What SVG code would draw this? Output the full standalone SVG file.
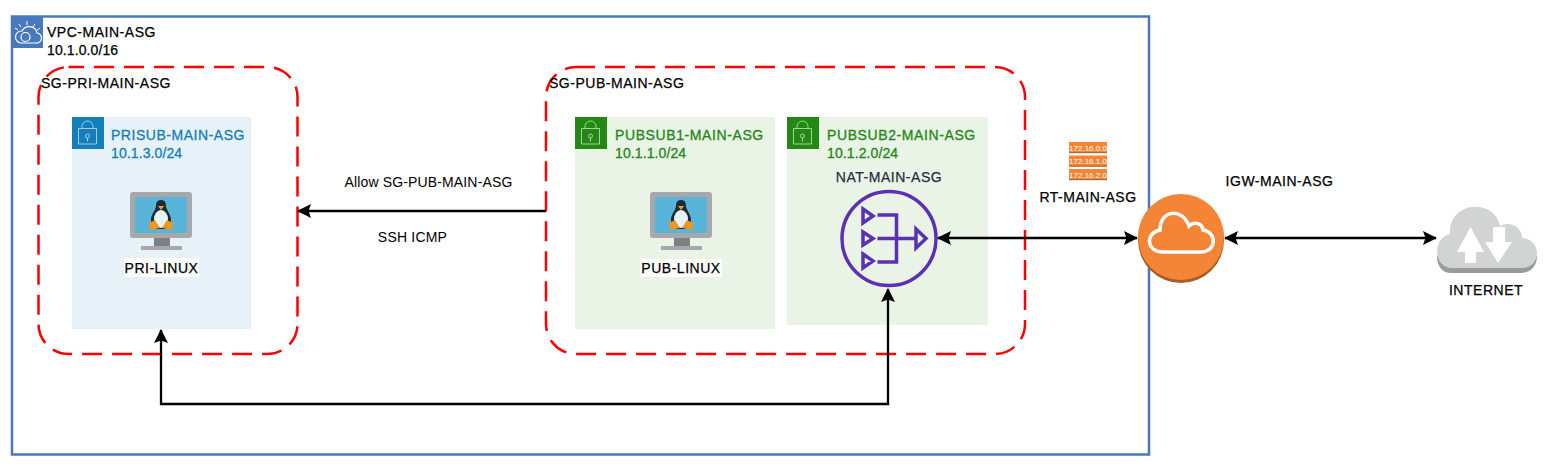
<svg xmlns="http://www.w3.org/2000/svg" width="1545" height="470" viewBox="0 0 1545 470">
<style>
text{font-family:"Liberation Sans",Arial,sans-serif;font-size:14px;fill:#000}
.b{stroke:#000;stroke-width:.25px;letter-spacing:.52px}
.g{fill:#248814;stroke:#248814;stroke-width:.3px;letter-spacing:.6px}
.t{fill:#147eba;stroke:#147eba;stroke-width:.3px;letter-spacing:.53px}
.n{letter-spacing:.1px}
.sg{fill:none;stroke:#f00;stroke-width:2.500;stroke-dasharray:20 10}
.conn{fill:none;stroke:#000;stroke-width:2.300}
.lk{fill:none;stroke:#fff;stroke-opacity:.6;stroke-width:1}
.nat{fill:none;stroke:#5a30b5;stroke-width:3.500}
.ip{font-size:8px;fill:#fff;text-anchor:middle}
</style>
<defs>
<marker id="a" viewBox="0 0 14 14" refX="13" refY="7" markerWidth="14" markerHeight="14" markerUnits="userSpaceOnUse" orient="auto-start-reverse"><path d="M0 0L14 7L0 14L2.500 7Z" fill="#000"/></marker>
<g id="lock"><path class="lk" d="M10 11V9.500a5.500 5.500 0 0 1 11 0V11M6.500 11.500h18v15.500h-18z"/><circle class="lk" cx="15.500" cy="19" r="2"/><path class="lk" d="M15.500 21v3.500"/></g>
<g id="tux">
<rect width="62" height="46" rx="3" fill="#a6a8ab"/>
<rect x="5" y="5" width="52" height="36" fill="#59b4d9"/>
<path d="M24 46h16v8H24z" fill="#7f8083"/>
<rect x="11" y="54" width="41" height="4" fill="#a6a8ab"/>
<circle cx="30.500" cy="2.500" r=".8" fill="#b8d432"/>
<path d="M31 8c-4 0-5 3-5 6 0 4-5 8-5 14 0 4 2 8 4 9h12c2-1 4-5 4-9 0-6-5-10-5-14 0-3-1-6-5-6z" fill="#1d2b33"/>
<ellipse cx="31" cy="27" rx="7" ry="9" fill="#e9f2f6"/>
<path d="M28 14h6l-3 4z" fill="#f0a030"/>
<path d="M19 31l6-3 5 8-10 2zM43 31l-6-3-5 8 10 2z" fill="#f0961f"/>
</g>
</defs>

<g id="vpc">
<rect x="12" y="16.500" width="1137" height="438" fill="#fff" stroke="#4a78bd" stroke-width="2.500"/>
<rect x="11" y="16" width="32" height="32" fill="#4a78bd"/>
<path d="M21 43h15a5 5 0 0 0 1-10 8 8 0 0 0-15-2 6 6 0 0 0-1 12z" fill="none" stroke="#fff" stroke-width="1.200"/>
<circle cx="25.500" cy="37" r="4.500" fill="none" stroke="#fff" stroke-width="1.200"/>
<path d="M21 27l-2-3M27 25v-4M33 27l2-3M37 30l3-2M18 30l-3-2" stroke="#fff" stroke-width="1"/>
<text class="b" x="47" y="37">VPC-MAIN-ASG</text>
<text class="b n" x="47" y="55">10.1.0.0/16</text>
</g>

<g id="sg-pri">
<rect class="sg" x="38.500" y="67" width="259" height="287" rx="30" ry="30" stroke-dashoffset="4.500"/>
<text class="b" x="41" y="88">SG-PRI-MAIN-ASG</text>
</g>
<g id="sg-pub">
<rect class="sg" x="546" y="67" width="479" height="287" rx="30" ry="30" stroke-dashoffset="1"/>
<text class="b" x="549" y="88">SG-PUB-MAIN-ASG</text>
</g>

<g id="prisub">
<rect x="72" y="117" width="179" height="212" fill="#e6f2f8"/>
<rect x="72" y="117" width="32" height="32" fill="#147eba"/>
<use href="#lock" x="72" y="117"/>
<text class="t" x="111" y="140">PRISUB-MAIN-ASG</text>
<text class="t n" x="111" y="158">10.1.3.0/24</text>
</g>
<g id="pubsub1">
<rect x="575" y="117" width="200" height="212" fill="#e9f3e6"/>
<rect x="575" y="117" width="32" height="32" fill="#248814"/>
<use href="#lock" x="575" y="117"/>
<text class="g" x="615" y="140">PUBSUB1-MAIN-ASG</text>
<text class="g n" x="615" y="158">10.1.1.0/24</text>
</g>
<g id="pubsub2">
<rect x="787" y="117" width="201" height="208" fill="#e9f3e6"/>
<rect x="787" y="117" width="32" height="32" fill="#248814"/>
<use href="#lock" x="787" y="117"/>
<text class="g" x="827" y="140">PUBSUB2-MAIN-ASG</text>
<text class="g n" x="827" y="158">10.1.2.0/24</text>
</g>

<g id="pri-linux">
<use href="#tux" x="130" y="192"/>
<rect x="124" y="258" width="75" height="19" fill="#fff"/>
<text class="b" x="161.500" y="273" text-anchor="middle">PRI-LINUX</text>
</g>
<g id="pub-linux">
<use href="#tux" x="650" y="192"/>
<rect x="640" y="259" width="82" height="18" fill="#fff"/>
<text class="b" x="681" y="273" text-anchor="middle">PUB-LINUX</text>
</g>

<g id="nat">
<text x="889" y="182" text-anchor="middle" style="fill:#232f3e;stroke:#232f3e;stroke-width:.25px;letter-spacing:.52px">NAT-MAIN-ASG</text>
<circle class="nat" cx="889" cy="238.500" r="47"/>
<path class="nat" d="M863 209l10 7-10 7zM863 232l10 6.500-10 6.500zM863 254l10 7-10 7zM877.500 215h19v47h-19M877.500 238.500h19M896 238.500h19M916 229l10 9.500-10 9.500z"/>
</g>

<g id="rt">
<g fill="#f58536">
<rect x="1069" y="142" width="38" height="11"/>
<rect x="1069" y="155.500" width="38" height="11"/>
<rect x="1069" y="169" width="38" height="11"/>
</g>
<g fill="#b5682a">
<rect x="1069" y="152" width="38" height="1.200"/>
<rect x="1069" y="165.500" width="38" height="1.200"/>
<rect x="1069" y="179" width="38" height="1.200"/>
</g>
<text class="ip" x="1088" y="150.500">172.16.0.0</text>
<text class="ip" x="1088" y="164">172.16.1.0</text>
<text class="ip" x="1088" y="177.500">172.16.2.0</text>
<text class="b" x="1088" y="202" text-anchor="middle">RT-MAIN-ASG</text>
</g>

<g id="igw">
<circle cx="1181" cy="240" r="43" fill="#a65f25"/>
<circle cx="1181" cy="237" r="43" fill="#f58536"/>
<path d="M1163 252H1201C1217 252 1217 232 1203 230C1202 222 1193 222 1189 226C1183 208 1160 209 1160 230C1145 233 1146 252 1163 252Z" fill="none" stroke="#fff" stroke-width="3.500"/>
<text class="b" x="1279.500" y="186" text-anchor="middle">IGW-MAIN-ASG</text>
</g>

<g id="internet">
<path d="M1451 273h70c8 0 16-6 16-17H1437c0 11 6 17 14 17z" fill="#9a9b9b"/>
<path d="M1452 268h70c20 0 20-29 0-30 0-13-14-17-22-12-5-26-46-26-50 3 0 2 0 3 0 5-18 4-17 34 2 34z" fill="#d2d3d3"/>
<path d="M1470.500 227l-13.500 25h8v11h11v-11h8zM1493 227v15h-8l13 21 14-21h-7v-15z" fill="#fff"/>
<text class="b" x="1486" y="295" text-anchor="middle">INTERNET</text>
</g>

<g id="connectors">
<path class="conn" d="M546 211H298" marker-end="url(#a)"/>
<path class="conn" d="M161 330V404H888V289" marker-start="url(#a)" marker-end="url(#a)"/>
<path class="conn" d="M938 238H1137" marker-start="url(#a)" marker-end="url(#a)"/>
<path class="conn" d="M1225 238H1436" marker-start="url(#a)" marker-end="url(#a)"/>
<text x="428.500" y="187" text-anchor="middle" style="letter-spacing:.14px">Allow SG-PUB-MAIN-ASG</text>
<text x="412.500" y="242" text-anchor="middle" style="letter-spacing:.2px">SSH ICMP</text>
</g>
</svg>
